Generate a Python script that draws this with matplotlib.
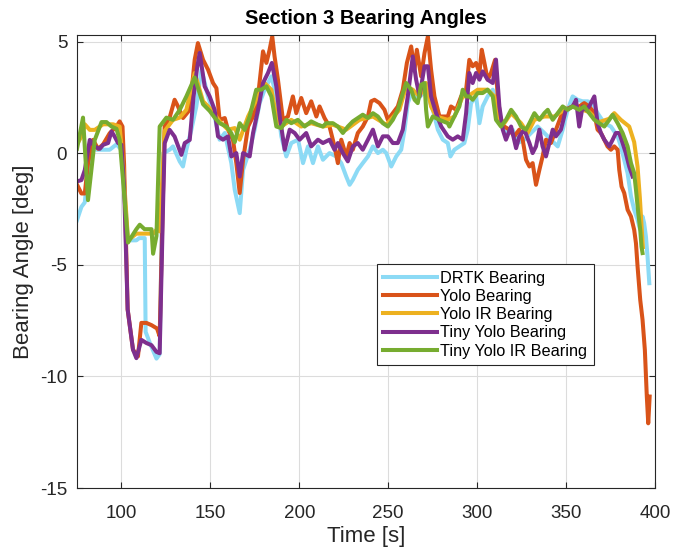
import matplotlib
matplotlib.use("Agg")
import matplotlib.pyplot as plt

plt.rcParams['font.family'] = ['Liberation Sans', 'DejaVu Sans']
plt.rcParams['axes.unicode_minus'] = False

# bearing angle readings [deg] vs time [s]
drtk_t = [75, 77.5, 79.4, 81.2, 83.1, 86.0, 89.7, 93.4, 97.2, 100.0, 101.5, 103.7, 108.4, 110.0, 113.1,
          113.6, 116.0, 119.7, 121.5, 123.4, 127.1, 129.0, 132.8, 134.6, 136.5, 139.3, 142.1, 145.0,
          148.7, 152.4, 155.2, 158.1, 161.8, 163.7, 166.5, 168.4, 172.1, 174.9, 177.7, 180.5, 184.3,
          187.1, 189.9, 192.7, 195.5, 199.3, 202.1, 204.9, 207.7, 210.5, 213.3, 217.0, 220.8, 223.6,
          226.4, 228.3, 230.1, 232.9, 235.7, 238.6, 241.4, 244.2, 247.0, 248.9, 251.7, 254.5, 257.3,
          259.2, 261.0, 263.8, 266.6, 269.5, 272.3, 275.1, 277.9, 280.7, 283.5, 285.0, 287.2, 290.0,
          292.8, 294.7, 296.6, 299.4, 301.3, 303.1, 305.9, 308.8, 310.6, 312.5, 314.4, 317.2, 320.0,
          322.8, 326.5, 330.3, 334.0, 337.8, 341.5, 345.3, 348.1, 350.9, 353.7, 356.5, 359.3, 362.1,
          364.9, 367.7, 371.5, 375.2, 379.0, 380.8, 382.7, 384.6, 386.5, 388.3, 390.2, 391.7, 393.0,
          393.9, 394.9, 395.8, 396.8]
drtk_y = [-3.0, -2.4, -2.2, -0.75, 0.4, 0.16, 0.16, 0.16, 0.4, 0.16, -1.5, -3.9, -3.9, -3.8, -3.8,
          -8.0, -8.5, -9.2, -9.0, 0.0, 0.16, 0.31, -0.37, -0.59, 0.16, 1.05, 2.1, 3.75,
          2.55, 1.65, 0.61, 0.91, -0.44, -1.63, -2.68, -0.74, 0.16, 1.06, 2.25, 2.85, 3.45,
          2.55, 0.76, -0.14, 0.46, 0.61, -0.44, 0.31, -0.44, 0.31, -0.29, 0.01, -0.14, -0.44,
          -1.04, -1.41, -1.19, -0.74, -0.44, -0.14, 0.31, 0.01, 0.16, 0.01, -0.59, -0.14, 0.16,
          1.06, 2.25, 2.85, 2.4, 2.7, 2.55, 1.95, 1.06, 0.61, 0.46, -0.14, 0.16, 0.31,
          0.46, 1.06, 2.25, 2.55, 1.35, 2.1, 2.55, 2.85, 2.25, 1.5, 1.2, 0.91, 1.06,
          0.46, 0.61, 0.91, 1.2, 0.91, 0.61, 0.31, 1.06, 1.95, 2.55, 2.4, 2.33, 2.33,
          2.25, 1.8, 1.35, 1.2, 0.76, 0.31, -0.29, -0.89, -1.93, -2.53, -2.98, -3.43, -2.83,
          -3.13, -3.73, -4.62, -5.82]

yolo_t = [75, 77.5, 79.4, 81.2, 84.0, 86.9, 89.7, 93.4, 97.2, 99.0, 100.6, 101.5, 103.5, 106.5, 109.3,
          111.2, 114.0, 116.9, 120.0, 121.5, 123.0, 124.3, 127.1, 129.9, 131.8, 134.6, 138.4, 141.2,
          143.0, 145.9, 148.7, 151.5, 153.4, 155.2, 158.1, 159.9, 162.7, 164.6, 166.5, 168.4, 171.2,
          174.0, 176.8, 179.6, 181.5, 183.3, 184.8, 186.1, 188.0, 190.8, 193.6, 196.4, 198.3, 201.1,
          203.9, 206.7, 209.6, 211.4, 214.2, 217.0, 219.8, 221.7, 223.6, 226.4, 228.3, 230.1, 232.9,
          235.7, 238.6, 240.4, 242.3, 245.1, 247.9, 249.8, 252.6, 255.4, 258.2, 260.5, 262.9, 264.8,
          266.1, 268.5, 270.4, 272.3, 274.1, 276.0, 278.8, 281.6, 283.5, 285.3, 288.2, 291.0, 293.8,
          295.6, 297.5, 299.4, 301.3, 302.6, 304.1, 305.9, 307.8, 310.1, 311.6, 313.4, 315.3, 318.1,
          320.9, 323.7, 325.6, 327.5, 329.4, 331.2, 333.1, 335.0, 336.8, 338.7, 341.5, 344.3, 347.1,
          349.9, 353.7, 357.4, 360.2, 363.0, 365.9, 367.7, 369.6, 371.5, 373.3, 375.2, 377.1, 379.0,
          379.9, 381.2, 382.7, 384.6, 386.5, 388.3, 389.3, 390.2, 391.7, 393.0, 394.3, 395.4, 396.2,
          397.0]
yolo_y = [-1.4, -1.8, -1.8, -0.45, 0.6, 0.2, 0.4, 0.9, 1.2, 1.43, 1.2, -0.5, -7.0, -8.8, -9.1,
          -7.6, -7.6, -7.7, -7.85, -8.2, -3.0, 1.2, 1.6, 2.4, 2.1, 1.58, 1.95, 4.2,
          4.94, 4.19, 3.75, 3.15, 2.92, 1.5, 1.58, 1.06, 0.61, -0.44, -1.78, -0.29, 1.2,
          1.65, 2.55, 4.57, 4.05, 4.64, 5.24, 4.34, 3.3, 1.5, 1.65, 2.55, 1.8, 2.48,
          1.8, 2.33, 1.65, 2.1, 1.58, 1.2, 0.31, -0.44, 0.61, -0.14, 0.46, 0.16, 0.91,
          1.2, 1.65, 2.33, 2.4, 2.25, 1.95, 1.5, 1.8, 2.1, 2.85, 4.05, 4.79, 3.75,
          4.64, 3.45, 4.49, 5.24, 3.75, 2.55, 1.65, 1.65, 1.65, 2.1, 1.95, 2.55, 2.85,
          4.19, 3.9, 4.05, 3.6, 4.64, 4.05, 3.3, 3.6, 4.19, 2.55, 1.35, 1.2, 1.06,
          0.76, 1.06, 0.61, -0.29, -0.59, -0.44, -1.41, -0.74, -0.14, 0.61, 0.46, 1.06, 1.65,
          1.95, 2.1, 2.1, 2.25, 2.1, 1.8, 1.06, 0.91, 0.61, 0.31, 0.16, 0.31, 0.16,
          -0.74, -1.49, -1.78, -2.53, -2.83, -3.43, -4.03, -5.07, -6.57, -7.46, -8.81, -10.9, -12.1,
          -10.9]

yolo_ir_t = [75, 77.5, 79.4, 82.2, 85.0, 89.7, 95.3, 99.0, 100.9, 103.7, 108.4, 113.0, 117.8, 120.0,
             121.5, 124.3, 129.0, 132.8, 136.5, 141.2, 145.9, 150.6, 155.2, 159.9, 163.7, 166.5,
             171.2, 176.8, 180.5, 184.3, 187.1, 189.9, 195.5, 201.1, 206.7, 213.3, 218.9, 226.4,
             233.9, 241.4, 248.9, 256.3, 260.1, 263.8, 267.6, 271.3, 274.1, 276.9, 283.5, 287.2,
             291.9, 294.7, 300.3, 305.9, 309.7, 311.6, 315.3, 319.1, 324.7, 328.4, 332.2, 337.8,
             343.4, 349.0, 353.7, 357.4, 363.0, 368.7, 374.3, 377.1, 380.8, 385.5, 388.3, 390.2,
             391.5, 392.4, 393.2]
yolo_ir_y = [0.4, 0.75, 1.3, 1.05, 1.05, 1.3, 1.3, 1.2, -0.5, -3.9, -3.6, -3.6, -3.6, -3.4,
             -3.5, 1.0, 1.5, 1.6, 1.95, 3.6, 2.33, 1.95, 1.43, 1.06, 1.13, 0.61,
             1.65, 2.55, 3.15, 2.85, 1.65, 1.2, 1.5, 1.2, 1.35, 1.2, 1.28, 1.06,
             1.5, 1.65, 1.28, 1.95, 3.0, 2.85, 2.55, 3.15, 2.1, 1.65, 1.5, 1.65,
             2.55, 2.55, 2.85, 2.85, 2.55, 1.65, 1.35, 1.8, 1.35, 0.91, 1.5, 1.65,
             1.65, 1.95, 2.1, 2.0, 1.85, 1.4, 1.55, 1.8, 1.5, 1.2, 0.5, -0.6,
             -2.0, -3.2, -4.2]

tiny_t = [75, 77.5, 79.4, 82.2, 85.0, 87.8, 89.7, 92.5, 94.4, 96.2, 98.1, 100.0, 101.5, 103.5, 106.5,
          108.4, 111.2, 114.0, 116.9, 119.7, 121.5, 123.5, 124.3, 127.1, 129.9, 133.7, 135.6, 138.4,
          140.5, 142.5, 144.0, 146.8, 149.6, 152.4, 154.3, 157.1, 159.9, 161.8, 164.6, 166.5, 168.4,
          172.1, 174.0, 176.8, 179.6, 182.4, 184.6, 187.1, 189.0, 191.8, 194.6, 197.4, 200.2, 203.9,
          206.7, 210.5, 213.3, 217.0, 219.8, 221.7, 224.5, 227.3, 230.1, 232.9, 235.7, 238.6, 241.4,
          244.2, 247.0, 249.8, 252.6, 255.4, 258.2, 261.0, 263.8, 265.7, 267.6, 270.4, 272.3, 274.1,
          276.9, 279.8, 283.5, 286.3, 289.1, 291.9, 293.8, 295.6, 297.5, 299.4, 301.3, 303.1, 305.9,
          308.8, 310.6, 312.5, 314.4, 316.2, 319.1, 321.9, 323.7, 326.5, 329.4, 331.2, 333.1, 335.0,
          336.8, 338.7, 340.6, 342.5, 344.3, 347.1, 349.9, 353.7, 355.6, 357.4, 359.3, 361.2, 363.0,
          365.9, 367.7, 369.6, 371.5, 374.3, 376.2, 378.0, 379.9, 381.8, 383.6, 385.5, 387.4]
tiny_y = [-1.26, -1.2, -0.75, 0.6, 0.3, 0.2, 0.38, 0.46, 0.98, 0.75, 0.46, 0.38, -1.5, -7.0, -8.8,
          -9.18, -8.36, -8.5, -8.6, -8.9, -8.96, -2.0, 0.45, 1.05, 0.75, -0.07, 0.46, 0.6,
          2.5, 3.8, 4.5, 3.0, 2.55, 1.95, 0.76, 0.61, 0.76, -0.14, 0.01, -1.04, 0.01,
          -0.14, 0.91, 1.95, 3.15, 3.6, 4.05, 3.0, 1.65, 0.16, 1.06, 0.91, 0.61, 0.91,
          0.31, 0.61, 0.46, 0.61, 0.16, 0.46, 0.01, -0.36, 0.31, 0.46, 0.16, 0.61, 1.06,
          0.31, 0.76, 0.76, 0.46, 0.46, 1.06, 2.55, 4.34, 3.3, 2.55, 3.9, 3.9, 2.55,
          1.8, 1.2, 0.76, 0.61, 0.76, 0.61, 1.8, 3.6, 3.15, 3.6, 3.3, 3.67, 3.3,
          3.15, 4.2, 2.1, 1.06, 0.61, 1.2, 0.23, 0.76, 1.06, 0.46, 0.01, 0.31, 1.06,
          0.31, -0.14, 0.46, 1.06, 0.76, 1.06, 1.95, 2.1, 2.4, 1.2, 2.1, 1.95, 2.1,
          2.55, 1.35, 0.91, 0.61, 0.31, 0.61, 0.91, 0.91, 0.46, 0.01, -0.59, -1.04]

tiny_ir_t = [75, 78.4, 81.2, 85.0, 88.8, 91.6, 94.4, 97.2, 99.0, 100.9, 103.7, 106.0, 108.4, 110.3,
             113.0, 116.9, 117.8, 119.7, 121.5, 125.3, 129.0, 132.8, 136.5, 141.2, 145.9, 149.6,
             152.4, 155.2, 159.0, 161.8, 163.7, 166.5, 169.3, 172.1, 175.8, 178.6, 181.5, 184.3,
             187.1, 189.9, 192.7, 195.5, 199.2, 203.0, 206.7, 210.5, 213.3, 215.1, 218.9, 221.7,
             224.5, 227.3, 230.1, 232.9, 235.7, 238.6, 241.4, 244.2, 247.0, 249.8, 252.6, 255.4,
             258.2, 260.1, 262.9, 264.8, 266.6, 268.5, 270.4, 271.3, 272.3, 275.1, 278.8, 283.5,
             284.4, 287.2, 290.0, 291.9, 293.8, 295.6, 297.5, 300.3, 303.1, 305.9, 308.8, 310.6,
             313.4, 316.2, 319.1, 321.9, 324.7, 327.5, 329.4, 332.2, 335.0, 337.8, 339.7, 342.5,
             345.3, 348.1, 350.9, 353.7, 357.4, 360.2, 363.0, 365.9, 368.7, 371.5, 374.3, 376.2,
             379.0, 381.8, 384.6, 386.5, 388.3, 389.3, 390.6, 391.7, 392.4, 393.0]
tiny_ir_y = [0.2, 1.6, -2.1, 0.6, 1.4, 1.4, 1.2, 1.1, 0.6, -1.2, -4.0, -3.7, -3.4, -3.2,
             -3.4, -3.4, -4.5, -3.7, 1.2, 1.6, 1.5, 1.95, 2.55, 3.4, 2.2, 1.9,
             1.6, 1.35, 1.2, 0.9, 0.5, 1.35, 1.05, 1.65, 2.85, 2.85, 3.0, 2.55,
             1.2, 1.13, 1.5, 1.35, 1.5, 1.2, 1.43, 1.28, 1.2, 1.35, 1.35, 1.2,
             0.91, 1.2, 1.43, 1.58, 1.73, 1.58, 1.8, 1.65, 1.35, 1.2, 1.5, 1.95,
             2.7, 3.15, 2.85, 2.4, 2.25, 3.07, 3.15, 1.95, 1.2, 1.65, 1.5, 1.35,
             1.2, 1.65, 2.1, 2.85, 2.55, 2.55, 2.4, 2.7, 2.7, 2.85, 2.55, 1.5,
             1.2, 1.5, 1.95, 1.65, 1.2, 1.06, 1.35, 1.8, 1.5, 1.8, 1.95, 1.5,
             1.8, 2.1, 1.95, 2.1, 1.95, 2.1, 1.8, 1.5, 1.35, 1.2, 1.5, 1.73,
             1.35, 0.91, 0.31, -0.44, -0.89, -1.63, -2.68, -3.43, -4.18, -4.47]

series = [
    (drtk_t, drtk_y, '#8CDAF5', 'DRTK Bearing'),
    (yolo_t, yolo_y, '#D95319', 'Yolo Bearing'),
    (yolo_ir_t, yolo_ir_y, '#EDB120', 'Yolo IR Bearing'),
    (tiny_t, tiny_y, '#7E2F8E', 'Tiny Yolo Bearing'),
    (tiny_ir_t, tiny_ir_y, '#77AC30', 'Tiny Yolo IR Bearing'),
]

fig = plt.figure(figsize=(6.74, 5.58), dpi=100)
ax = fig.add_axes([0.1142, 0.1254, 0.8576, 0.8118])

for t, y, c, name in series:
    ax.plot(t, y, color=c, linewidth=2.9, label=name)

ax.set_xlim(75, 400)
ax.set_ylim(-15, 5.3)
ax.set_xticks([100, 150, 200, 250, 300, 350, 400])
ax.set_yticks([-15, -10, -5, 0, 5])
ax.grid(True, color='#dcdcdc', linewidth=0.8)
ax.set_axisbelow(True)
ax.tick_params(direction='in', top=True, right=True, length=4, width=0.8,
               labelsize=13.5, colors='#262626')
ax.tick_params(axis='x', pad=12)
ax.tick_params(axis='y', pad=7)
for s in ax.spines.values():
    s.set_color('#262626')
    s.set_linewidth(0.8)

ax.set_xlabel('Time [s]', fontsize=16, color='#262626', labelpad=3)
ax.set_ylabel('Bearing Angle [deg]', fontsize=16, color='#262626', labelpad=4)
ax.set_title('Section 3 Bearing Angles', fontsize=14.5, fontweight='bold', pad=8)

leg = ax.legend(loc='upper left', bbox_to_anchor=(0.519, 0.4945), borderaxespad=0,
                fontsize=11.7, handlelength=3.3, handletextpad=0.2, labelspacing=0.2,
                borderpad=0.4, fancybox=False, framealpha=1, edgecolor='#262626')
leg.get_frame().set_linewidth(0.8)

fig.savefig('out.png', dpi=100, facecolor='white')
